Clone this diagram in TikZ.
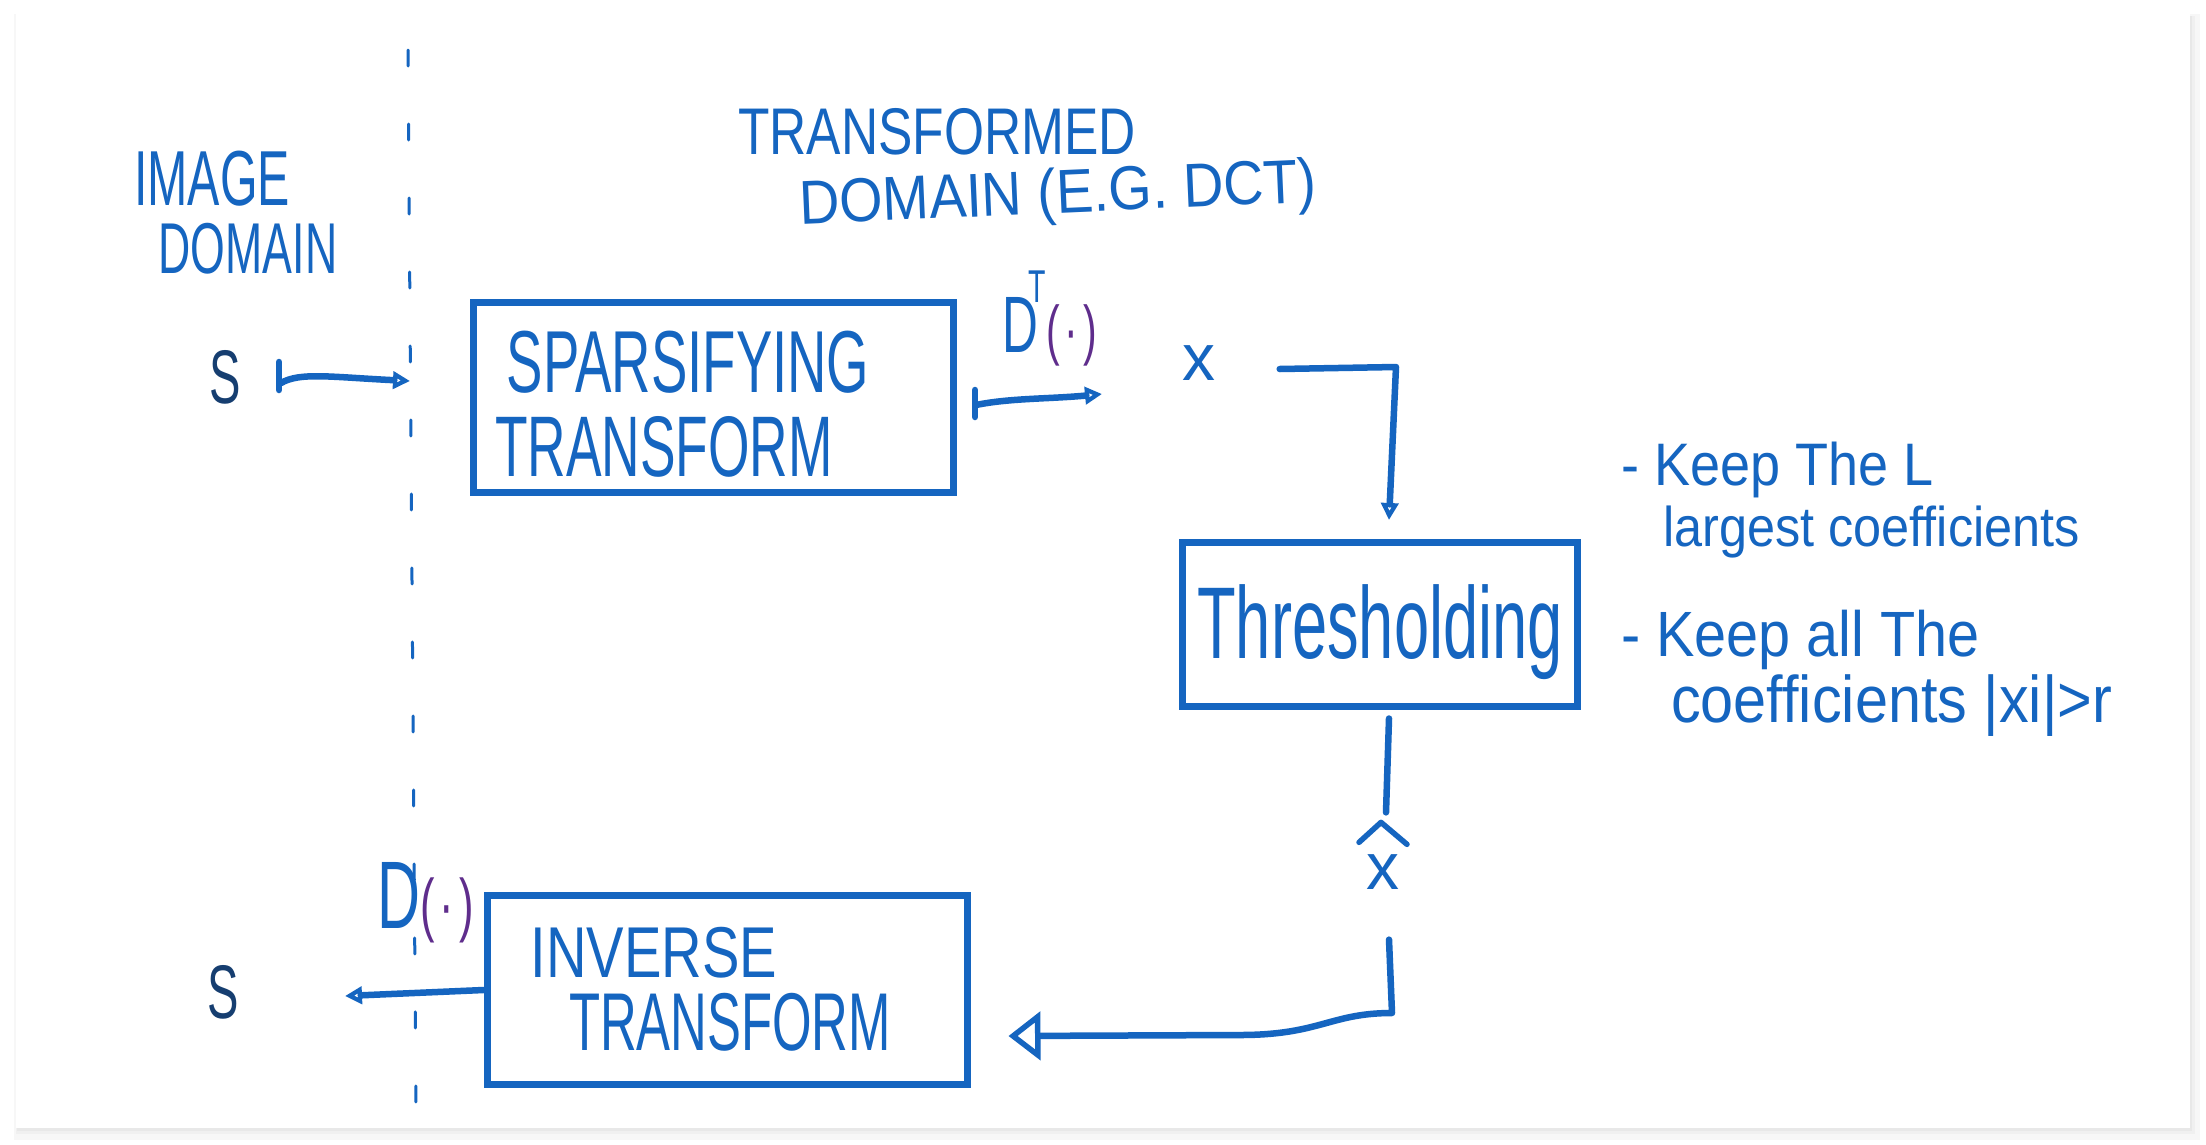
\documentclass[tikz,border=0pt]{standalone}
\usepackage{fontspec}
\usetikzlibrary{arrows.meta,calc}
\newfontfamily\hand[FakeStretch=0.62]{Liberation Sans}
\newfontfamily\handm[FakeStretch=0.78]{Liberation Sans}
\newfontfamily\handw[FakeStretch=0.9]{Liberation Sans}
\newfontfamily\handn{Liberation Sans}
\definecolor{ink}{RGB}{21,101,192}
\definecolor{inkdark}{RGB}{22,62,112}
\definecolor{purp}{RGB}{95,45,140}
\newcommand{\hfs}[1]{\fontsize{#1}{#1}\selectfont}
\begin{document}
\begin{tikzpicture}[x=1pt,y=-1pt,
  line/.style={draw=ink, line width=6.5pt, line cap=round, line join=round},
  boxn/.style={draw=ink, line width=7pt, rectangle, inner sep=0pt},
  lbl/.style={text=ink, inner sep=0pt},
  tipS/.style={-{Triangle[open,length=17pt,width=17pt,line width=4.5pt]}},
  tipB/.style={-{Triangle[open,length=32pt,width=48pt,line width=5.5pt]}}]
\useasboundingbox (0,0) rectangle (2206,1144);
% card with soft shadow
\fill[black!3] (14,14) rectangle (2200,1140);
\fill[black!6] (16,16) rectangle (2195,1134);
\fill[black!9] (17,16) rectangle (2192,1131);
\fill[white] (16,14) rectangle (2190,1128);
% divider
\draw[ink, line width=3pt, dash pattern=on 16pt off 58pt, line cap=round] (408,50) -- (416,1112);
% headings
\node[lbl, font={\hand\hfs{78}}] (img) at (212,179) {IMAGE};
\node[lbl, font={\hand\hfs{72}}] (imgd) at (248,249) {DOMAIN};
\node[lbl, font={\handm\hfs{66}}] (trf) at (937,132) {TRANSFORMED};
\node[lbl, font={\handw\hfs{62}}, rotate=2.5] (trfd) at (1058,197) {DOMAIN (E.G. DCT)};
% boxes
\node[boxn, minimum width=480pt, minimum height=190pt] (sp) at (713,397) {};
\node[boxn, minimum width=395pt, minimum height=164pt] (thr) at (1380,624) {};
\node[boxn, minimum width=480pt, minimum height=189pt] (inv) at (727,990) {};
% box texts
\node[lbl, font={\hand\hfs{88}}] (spt1) at (688,362) {SPARSIFYING};
\node[lbl, font={\hand\hfs{86}}] (spt2) at (664,447) {TRANSFORM};
\node[lbl, font={\hand\hfs{102}}] (thrt) at (1380,632) {Thresholding};
\node[lbl, font={\handm\hfs{72}}] (invt1) at (654,953) {INVERSE};
\node[lbl, font={\hand\hfs{82}}] (invt2) at (730,1022) {TRANSFORM};
% signals
\node[lbl, text=inkdark, font={\hand\hfs{76}}] (sin) at (225,377) {S};
\node[lbl, text=inkdark, font={\hand\hfs{76}}] (sout) at (223,992) {S};
\node[lbl, font={\handn\hfs{66}}] (xn) at (1199,363) {x};
\node[lbl, font={\handn\hfs{66}}] (xh) at (1383,872) {x};
\draw[line, line width=5.5pt] ($(xh.north)+(-24,-12)$) -- ($(xh.north)+(-2,-32)$) -- ($(xh.north)+(24,-10)$);
% operators
\node[lbl, anchor=base west] (dt) at (1002,352)
  {\hand\hfs{80}D\rlap{\kern-10pt\raisebox{50pt}{\hfs{46}T}}\kern8pt\textcolor{purp}{\hfs{66}(\kern5pt·\kern5pt)}};
\node[lbl, anchor=base west] (dd) at (377,928)
  {\hand\hfs{96}D\textcolor{purp}{\hfs{70}(\kern5pt·\kern5pt)}};
% notes
\node[lbl, anchor=base west, font={\handw\hfs{60}}] (n1) at (1621,485) {- Keep The L};
\node[lbl, anchor=base west, font={\handw\hfs{56}}] (n2) at (1663,546) {largest coefficients};
\node[lbl, anchor=base west, font={\handw\hfs{64}}] (n3) at (1621,656) {- Keep all The};
\node[lbl, anchor=base west, font={\handw\hfs{66}}] (n4) at (1671,722) {coefficients |xi|>r};
% free ends
\coordinate (a1s) at (279,362);
\coordinate (a1e) at (410,381);
\coordinate (a2s) at (975,417);
\coordinate (a2e) at (1102,394);
\coordinate (a3e) at (1389,520);
\coordinate (a6e) at (345,996);
% connectors
\draw[line] (a1s) -- (279,390);
\draw[line, tipS] (281,383) .. controls (300,372) and (330,377) .. (a1e);
\draw[line] (a2s) -- (975,390);
\draw[line, tipS] (976,405) .. controls (1010,398) and (1050,399) .. (a2e);
\draw[line, tipS] ($(xn.east)+(64,6)$) -- (1396,367) -- (a3e);
\draw[line] ($(thr.south)+(9,9)$) -- ($(xh.north)+(3,-42)$);
\draw[line, tipB] ($(xh.south)+(6,50)$) -- (1392,1013) .. controls (1330,1013) and (1320,1035) .. (1240,1035) -- ($(inv.east)+(38,46)$);
\draw[line, tipS] (inv.west) -- (a6e);
\end{tikzpicture}
\end{document}
